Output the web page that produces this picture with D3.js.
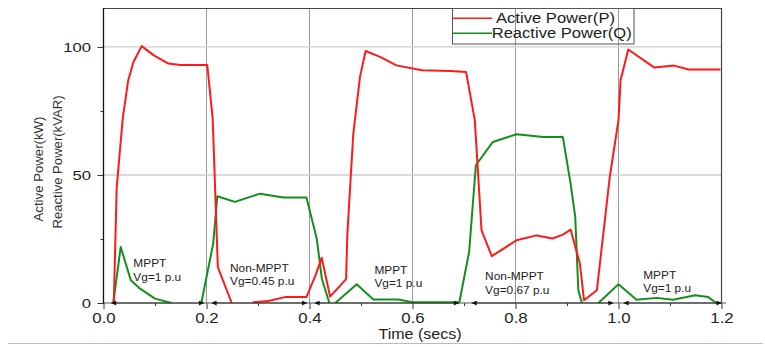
<!DOCTYPE html>
<html><head><meta charset="utf-8">
<script src="https://cdn.jsdelivr.net/npm/d3@7"></script>
<style>
html,body{margin:0;padding:0;background:#fff;}
svg{display:block;font-family:"Liberation Sans",Arial,sans-serif;}
</style></head>
<body>
<svg id="chart" width="765" height="347"></svg>
<script>
// ---- data ----
const pTime = [0.02,0.0256,0.0373,0.048,0.058,0.074,0.097,0.126,0.149,0.2015,0.212,0.222,0.249,0.27,0.29,0.32,0.352,0.394,0.412,0.4237,0.44,0.471,0.4735,0.485,0.498,0.509,0.537,0.569,0.618,0.673,0.704,0.721,0.734,0.754,0.802,0.841,0.872,0.893,0.907,0.925,0.933,0.958,0.983,1.0,1.004,1.019,1.069,1.108,1.136,1.198];
const pValues = [0,45,72,87,94,100.3,96.8,93.5,92.9,92.9,72,14,0,null,0.3,0.8,2.3,2.3,11,17.7,2.5,9.3,27,66,88.3,98.4,96.1,92.8,90.9,90.6,90.2,71.4,28.4,18.3,24.5,26.4,25.2,26.8,28.7,15.4,1.1,5,49.2,71.4,87,99,92,92.7,91.2,91.2];
const qTime = [0.019,0.0334,0.053,0.071,0.1,0.132,0.16,0.19,0.213,0.221,0.255,0.304,0.349,0.394,0.414,0.424,0.4386,0.444,0.45,0.4917,0.524,0.572,0.6,0.691,0.71,0.723,0.756,0.802,0.854,0.892,0.907,0.916,0.922,0.929,0.945,0.961,1.0,1.035,1.074,1.106,1.149,1.174,1.19,1.2];
const qValues = [0,21.9,8.9,5.6,1.7,0,null,0,23.2,41.7,39.5,42.7,41.2,41.2,25.2,9.5,0,null,0,7.3,1.4,1.4,0.3,0.3,20,53.8,62.9,65.9,64.8,64.8,46.6,33.6,5,0,null,0,7.3,1.3,2,1.3,3,2.3,0,0];
const seriesNames = ["Active Power(P)","Reactive Power(Q)"];
const xTicks = [0,0.2,0.4,0.6,0.8,1.0,1.2];
const xMinorTicks = [0.1,0.3,0.5,0.7,0.9,1.1];
const yTicks = [0,50,100];
const yMinorTicks = [25,75];
const regionStart = [0.015,0.21,0.41,0.715,1.01];
const regionEnd = [0.195,0.395,0.69,0.99,1.2];
const noteLine1 = ["MPPT","Non-MPPT","MPPT","Non-MPPT","MPPT"];
const noteLine2 = ["Vg=1 p.u","Vg=0.45 p.u","Vg=1 p.u","Vg=0.67 p.u","Vg=1 p.u"];
const noteTime = [0.058,0.2456,0.526,0.741,1.048];
const noteValue = [13.9,12.2,11.5,8.9,9.5];
const xTitle = "Time (secs)";
const yTitle1 = "Active Power(kW)";
const yTitle2 = "Reactive Power(kVAR)";

// ---- layout ----
const svg = d3.select("#chart");
const L = 103.5, R = 721.5, T = 8, B = 303;
const x = d3.scaleLinear().domain([0,1.2]).range([L,R]);
const y = d3.scaleLinear().domain([0,115.2]).range([B,T]);
const RED = "#ff1a1a", GREEN = "#12901a";

// page separator line
svg.append("line").attr("x1",8).attr("x2",763).attr("y1",343.5).attr("y2",343.5)
  .attr("stroke","#bbb").attr("stroke-width",1);

// gridlines
svg.append("g").selectAll("line").data(xTicks.filter(d=>d>0 && d<1.2)).join("line")
  .attr("x1",d=>x(d)).attr("x2",d=>x(d)).attr("y1",T).attr("y2",B)
  .attr("stroke","#9a9a9a").attr("stroke-width",1);
svg.append("g").selectAll("line").data(yTicks.filter(d=>d>0)).join("line")
  .attr("x1",L).attr("x2",R).attr("y1",d=>y(d)).attr("y2",d=>y(d))
  .attr("stroke","#cfcfcf").attr("stroke-width",1.4);

// frame top/right
svg.append("path").attr("d",`M${L},${T+0.5}H${R}V${B}`).attr("fill","none")
  .attr("stroke","#444").attr("stroke-width",1.2);

// x axis
const xAxis = svg.append("g").attr("transform",`translate(0,${B})`)
  .call(d3.axisBottom(x).tickValues(xTicks).tickFormat(d3.format(".1f")).tickSize(6));
xAxis.select(".domain").remove();
xAxis.selectAll("line").attr("stroke","#333");
xAxis.selectAll("text").attr("font-size",14).attr("fill","#222")
  .attr("y",10).attr("font-family","Liberation Sans, Arial, sans-serif")
  .attr("transform","scale(1.2,1)");
const xAxisMinor = svg.append("g").attr("transform",`translate(0,${B})`)
  .call(d3.axisBottom(x).tickValues(xMinorTicks).tickFormat("").tickSize(3));
xAxisMinor.select(".domain").remove();
xAxisMinor.selectAll("line").attr("stroke","#333");
svg.append("line").attr("x1",L).attr("x2",726).attr("y1",B).attr("y2",B)
  .attr("stroke","#555").attr("stroke-width",1.2);

// y axis
const yAxis = svg.append("g").attr("transform",`translate(${L},0)`)
  .call(d3.axisLeft(y).tickValues(yTicks).tickSize(6));
yAxis.select(".domain").remove();
yAxis.selectAll("line").attr("stroke","#333");
yAxis.selectAll("text").attr("font-size",13).attr("fill","#222")
  .attr("x",-9.8).attr("dy","0.36em").attr("font-family","Liberation Sans, Arial, sans-serif")
  .attr("transform","scale(1.28,1)");
const yAxisMinor = svg.append("g").attr("transform",`translate(${L},0)`)
  .call(d3.axisLeft(y).tickValues(yMinorTicks).tickFormat("").tickSize(3));
yAxisMinor.select(".domain").remove();
yAxisMinor.selectAll("line").attr("stroke","#333");
svg.append("line").attr("x1",L).attr("x2",L).attr("y1",T).attr("y2",B+0.5)
  .attr("stroke","#111").attr("stroke-width",1.3);

// titles
svg.append("text").attr("x",420).attr("y",339.3).attr("text-anchor","middle")
  .attr("font-size",14).attr("fill","#222").attr("textLength",83)
  .attr("lengthAdjust","spacingAndGlyphs").text(xTitle);
svg.append("text").attr("transform","translate(43,169) rotate(-90)").attr("text-anchor","middle")
  .attr("font-size",12.5).attr("fill","#333").attr("textLength",105)
  .attr("lengthAdjust","spacingAndGlyphs").text(yTitle1);
svg.append("text").attr("transform","translate(61.7,162) rotate(-90)").attr("text-anchor","middle")
  .attr("font-size",12.5).attr("fill","#333").attr("textLength",133)
  .attr("lengthAdjust","spacingAndGlyphs").text(yTitle2);

// lines
const pData = pTime.map((t,i)=>({t, v:pValues[i]}));
const qData = qTime.map((t,i)=>({t, v:qValues[i]}));
const line = d3.line().defined(d=>d.v!==null).x(d=>x(d.t)).y(d=>y(d.v));
svg.append("path").datum(qData).attr("d",line).attr("fill","none")
  .attr("stroke",GREEN).attr("stroke-width",2).attr("stroke-linejoin","round");
svg.append("path").datum(pData).attr("d",line).attr("fill","none")
  .attr("stroke",RED).attr("stroke-width",2).attr("stroke-linejoin","round");

// region arrows
const defs = svg.append("defs");
defs.append("marker").attr("id","arrEnd").attr("viewBox","0 0 10 10").attr("refX",10).attr("refY",5)
  .attr("markerWidth",6).attr("markerHeight",5).attr("markerUnits","userSpaceOnUse").attr("orient","auto")
  .append("path").attr("d","M0,0L10,5L0,10Z").attr("fill","#111");
defs.append("marker").attr("id","arrStart").attr("viewBox","0 0 10 10").attr("refX",0).attr("refY",5)
  .attr("markerWidth",6).attr("markerHeight",5).attr("markerUnits","userSpaceOnUse").attr("orient","auto")
  .append("path").attr("d","M10,0L0,5L10,10Z").attr("fill","#111");
svg.append("g").selectAll("line").data(regionStart).join("line")
  .attr("x1",d=>x(d)).attr("x2",(d,i)=>x(regionEnd[i])).attr("y1",y(0)).attr("y2",y(0))
  .attr("stroke","#333").attr("stroke-width",1)
  .attr("marker-start","url(#arrStart)").attr("marker-end","url(#arrEnd)");

// annotations
const notes = svg.append("g").attr("font-size",11).attr("fill","#222");
noteLine1.forEach((s,i)=>{
  const g = notes.append("g").attr("transform",`translate(${x(noteTime[i])},${y(noteValue[i])}) scale(1.08,1)`);
  g.append("text").attr("x",0).attr("y",0).text(s);
  g.append("text").attr("x",0).attr("y",13.5).text(noteLine2[i]);
});

// legend
const lg = svg.append("g");
lg.append("rect").attr("x",452.5).attr("y",T+0.5).attr("width",181.5).attr("height",35.5)
  .attr("fill","none").attr("stroke","#555").attr("stroke-width",1);
const legY = [18.3,33.3];
const legColors = [RED, GREEN];
const legTextX = [496,491.7];
const legLen = [119,140];
seriesNames.forEach((s,i)=>{
  lg.append("line").attr("x1",453).attr("x2",492).attr("y1",legY[i]).attr("y2",legY[i])
    .attr("stroke",legColors[i]).attr("stroke-width",1.6);
  lg.append("text").attr("x",legTextX[i]).attr("y",legY[i]+4.6).attr("font-size",14)
    .attr("fill","#222").attr("textLength",legLen[i]).attr("lengthAdjust","spacingAndGlyphs").text(s);
});
</script>
</body></html>
